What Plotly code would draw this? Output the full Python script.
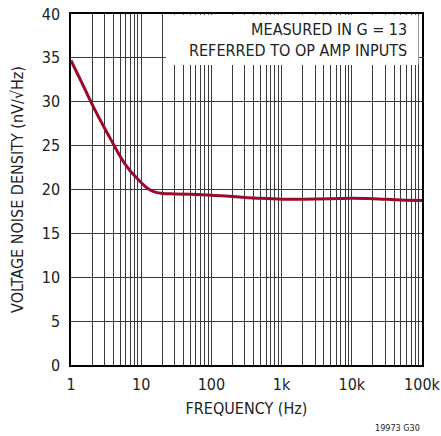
import plotly.graph_objects as go

# curve
freq = [1, 1.5, 2, 3, 4, 5, 6, 7, 8, 10, 12, 15, 20, 30, 50, 100, 200, 500,
        1000, 2000, 5000, 10000, 20000, 50000, 100000]
noise = [34.7, 31.8, 29.7, 27.0, 25.2, 23.8, 22.8, 22.1, 21.6, 20.8, 20.2, 19.75,
         19.55, 19.5, 19.45, 19.35, 19.2, 19.0, 18.9, 18.9, 18.95, 19.0, 18.95, 18.8, 18.75]

decades = [1, 10, 100, 1000, 10000, 100000]
decade_labels = ["1", "10", "100", "1k", "10k", "100k"]
y_ticks = [0, 5, 10, 15, 20, 25, 30, 35, 40]

# every 1..9 multiple gets a grid line, only decades get a label
x_tickvals, x_ticktext = [], []
for d, lab in zip(decades, decade_labels):
    x_tickvals.append(d)
    x_ticktext.append(lab)
    if d < 100000:
        for m in range(2, 10):
            x_tickvals.append(d * m)
            x_ticktext.append("")

FONT = "Liberation Sans Narrow, DejaVu Sans Condensed, sans-serif"

fig = go.Figure()
fig.add_trace(go.Scatter(x=freq, y=noise, mode="lines", line_shape="spline",
                         line=dict(color="#990a2c", width=3), hoverinfo="skip"))

fig.update_layout(
    width=441, height=436,
    margin=dict(l=71, r=19, t=14, b=71),
    paper_bgcolor="white", plot_bgcolor="white",
    showlegend=False,
    font=dict(family=FONT, size=16, color="#222"),
    xaxis=dict(type="log", range=[0, 5], tickvals=x_tickvals, ticktext=x_ticktext,
               showgrid=True, gridcolor="#3a3a3a", gridwidth=1, automargin=False,
               showline=True, linecolor="black", linewidth=1.5, mirror=True,
               ticks="", ticklabelstandoff=4,
               title=dict(text="FREQUENCY (Hz)", font=dict(size=16), standoff=10)),
    yaxis=dict(range=[0, 40], tickvals=y_ticks, automargin=False,
               showgrid=True, gridcolor="#3a3a3a", gridwidth=1, zeroline=False,
               showline=True, linecolor="black", linewidth=1.5, mirror=True,
               ticks="", ticklabelstandoff=6,
               title=dict(text="VOLTAGE NOISE DENSITY (nV/√Hz)", font=dict(size=16), standoff=14)),
)

# white box behind the note
fig.add_shape(type="rect", xref="paper", yref="paper", x0=0.27, x1=0.99, y0=0.855, y1=0.998,
              fillcolor="white", line_width=0, layer="above")
fig.add_annotation(xref="paper", yref="paper", x=0.963, y=0.99, xanchor="right", yanchor="top",
                   align="right", showarrow=False,
                   text="MEASURED IN G = 13<br>REFERRED TO OP AMP INPUTS",
                   font=dict(size=16, color="#222"))
fig.add_annotation(xref="paper", yref="paper", x=1.0, y=-0.18, xanchor="right", yanchor="middle",
                   showarrow=False, text="19973 G30", font=dict(size=9, color="#222"))

# page has a default body margin; drop it so the figure sits at 0,0
fig.write_html("out.html", config={"displayModeBar": False},
               post_script="document.body.style.margin='0';")
